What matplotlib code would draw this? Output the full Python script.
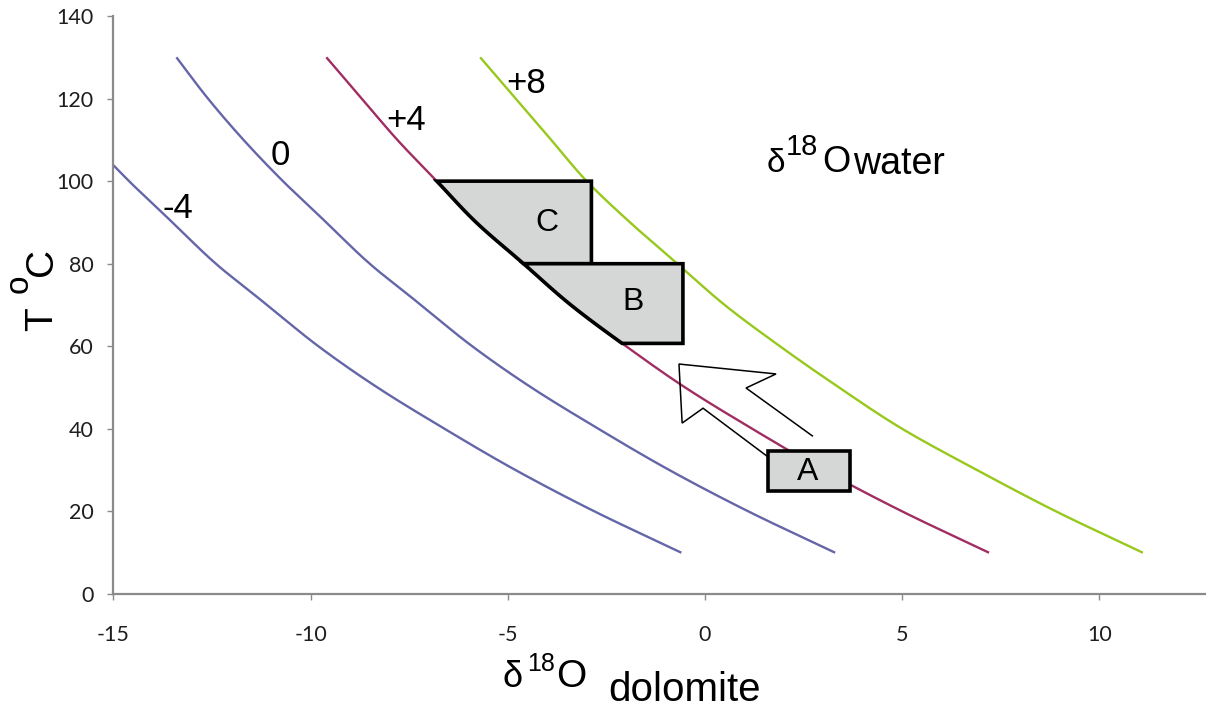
import numpy as np
import matplotlib
matplotlib.use("Agg")
import matplotlib.pyplot as plt
from matplotlib.patches import Polygon, Rectangle

plt.rcParams["axes.unicode_minus"] = False

# Temperature grid (deg C) and dolomite d18O (permil PDB) for each water d18O
temperature_c = [10, 20, 30, 40, 50, 60, 70, 80, 90, 100, 110, 120, 130]
dol_water_m4 = [-0.6, -2.8, -4.8, -6.6, -8.3, -9.8, -11.1, -12.4, -13.5, -14.6, -15.6, -16.5, -17.3]
dol_water_0 = [3.3, 1.1, -0.9, -2.7, -4.4, -5.9, -7.2, -8.5, -9.6, -10.7, -11.7, -12.6, -13.4]
dol_water_p4 = [7.2, 5.0, 3.0, 1.2, -0.5, -2.0, -3.4, -4.6, -5.8, -6.8, -7.8, -8.7, -9.6]
dol_water_p8 = [11.1, 8.9, 6.9, 5.0, 3.4, 1.9, 0.5, -0.7, -1.9, -3.0, -3.9, -4.8, -5.7]

water_labels = ["-4", "0", "+4", "+8"]
water_label_x = [-13.37, -10.77, -7.58, -4.54]
water_label_t = [91.1, 103.9, 112.4, 121.3]

# Dolomite fields: C and B are bounded on the left by the +4 permil curve
field_c_t = [80, 100]
field_c_xmax = -2.88
field_b_t = [60.7, 80]
field_b_xmax = -0.56
field_a_x = [1.6, 3.68]
field_a_t = [24.9, 34.7]
field_names = ["C", "B", "A"]
field_label_x = [-4.01, -1.83, 2.59]
field_label_t = [87.9, 68.8, 27.6]

# Open block arrow from field A towards field B
arrow_x = [2.72, 1.04, 1.80, -0.66, -0.58, -0.05, 1.57]
arrow_t = [38.3, 49.9, 53.3, 55.7, 41.4, 45.0, 33.4]

COL_BLUE = "#6566a8"
COL_RED = "#a12e62"
COL_GREEN = "#97c81c"
FIELD_FILL = "#d5d6d6"
AXIS_GREY = "#8a8a8a"
LABEL_FONT = ["Liberation Sans", "DejaVu Sans"]


def smooth(xs, ys, n=24):
    """Catmull-Rom spline through the given points."""
    p = np.column_stack([xs, ys]).astype(float)
    p = np.vstack([2 * p[0] - p[1], p, 2 * p[-1] - p[-2]])
    out = []
    t = np.linspace(0, 1, n, endpoint=False)[:, None]
    for i in range(1, len(p) - 2):
        p0, p1, p2, p3 = p[i - 1], p[i], p[i + 1], p[i + 2]
        seg = 0.5 * ((2 * p1) + (-p0 + p2) * t
                     + (2 * p0 - 5 * p1 + 4 * p2 - p3) * t ** 2
                     + (-p0 + 3 * p1 - 3 * p2 + p3) * t ** 3)
        out.append(seg)
    out.append(p[-2][None, :])
    out = np.vstack(out)
    return out[:, 0], out[:, 1]


fig = plt.figure(figsize=(12.06, 7.08), dpi=100)
ax = fig.add_axes([113.3 / 1206, 114 / 708, (1206 - 113.3) / 1206, 578 / 708])

curves = [(dol_water_m4, COL_BLUE), (dol_water_0, COL_BLUE),
          (dol_water_p4, COL_RED), (dol_water_p8, COL_GREEN)]
for xs, col in curves:
    sx, st = smooth(xs, temperature_c)
    ax.plot(sx, st, color=col, lw=1.7, zorder=2, solid_capstyle="butt")

for lab, lx, lt in zip(water_labels, water_label_x, water_label_t):
    ax.text(lx, lt, lab, fontsize=25, ha="center", va="baseline",
            family=LABEL_FONT, zorder=6)

# Fields bounded by the +4 curve
cx, ct = smooth(dol_water_p4, temperature_c, n=60)


def field_polygon(t_lo, t_hi, xmax):
    xlo = np.interp(t_lo, ct, cx)
    xhi = np.interp(t_hi, ct, cx)
    m = (ct > t_lo) & (ct < t_hi)
    verts = [(xlo, t_lo)] + list(zip(cx[m], ct[m])) + [(xhi, t_hi), (xmax, t_hi), (xmax, t_lo)]
    return Polygon(verts, closed=True, facecolor=FIELD_FILL, edgecolor="black",
                   lw=2.6, joinstyle="miter", zorder=4)


ax.add_patch(field_polygon(field_c_t[0], field_c_t[1], field_c_xmax))
ax.add_patch(field_polygon(field_b_t[0], field_b_t[1], field_b_xmax))
ax.add_patch(Rectangle((field_a_x[0], field_a_t[0]), field_a_x[1] - field_a_x[0],
                       field_a_t[1] - field_a_t[0], facecolor=FIELD_FILL,
                       edgecolor="black", lw=2.6, joinstyle="miter", zorder=4))

ax.plot(arrow_x, arrow_t, color="black", lw=1.1, solid_joinstyle="miter", zorder=3)

for name, fx, ft in zip(field_names, field_label_x, field_label_t):
    ax.text(fx, ft, name, fontsize=23, ha="center", va="baseline",
            family=LABEL_FONT, zorder=6)

# Axes styling
ax.set_xlim(-15, 12.7)
ax.set_ylim(0, 140)
ax.set_xticks([-15, -10, -5, 0, 5, 10])
ax.set_yticks(range(0, 141, 20))
for side in ("top", "right"):
    ax.spines[side].set_visible(False)
for side in ("left", "bottom"):
    ax.spines[side].set_color(AXIS_GREY)
    ax.spines[side].set_linewidth(1.6)
ax.tick_params(axis="both", direction="out", length=4, width=1.0, color=AXIS_GREY,
               labelsize=15.5, labelcolor="#1e1e1e", labelfontfamily="Lato")
ax.tick_params(axis="y", pad=10)
ax.tick_params(axis="x", pad=18)


def ftext(px, py, s, size, **kw):
    fig.text(px / 1206, 1 - py / 708, s, fontsize=size, family=LABEL_FONT, **kw)


# Heading for the water curves
ftext(767, 172, "δ", 24, ha="left", va="baseline")
ftext(786, 155, "18", 21, ha="left", va="baseline")
ftext(822, 172.5, "O", 26, ha="left", va="baseline")
ftext(853, 173.5, "water", 27, ha="left", va="baseline")

# x-axis title
ftext(502, 687, "δ", 26, ha="left", va="baseline")
ftext(527, 671, "18", 18, ha="left", va="baseline")
ftext(556, 687, "O", 28, ha="left", va="baseline")
ftext(608, 701, "dolomite", 29, ha="left", va="baseline")

# y-axis title (rotated)
ftext(52, 319, "T", 28, ha="center", va="baseline", rotation=90, rotation_mode="anchor")
ftext(28, 284, "o", 24, ha="center", va="baseline", rotation=90, rotation_mode="anchor")
ftext(52, 262, "C", 28, ha="center", va="baseline", rotation=90, rotation_mode="anchor")

fig.savefig("out.png", dpi=100)
